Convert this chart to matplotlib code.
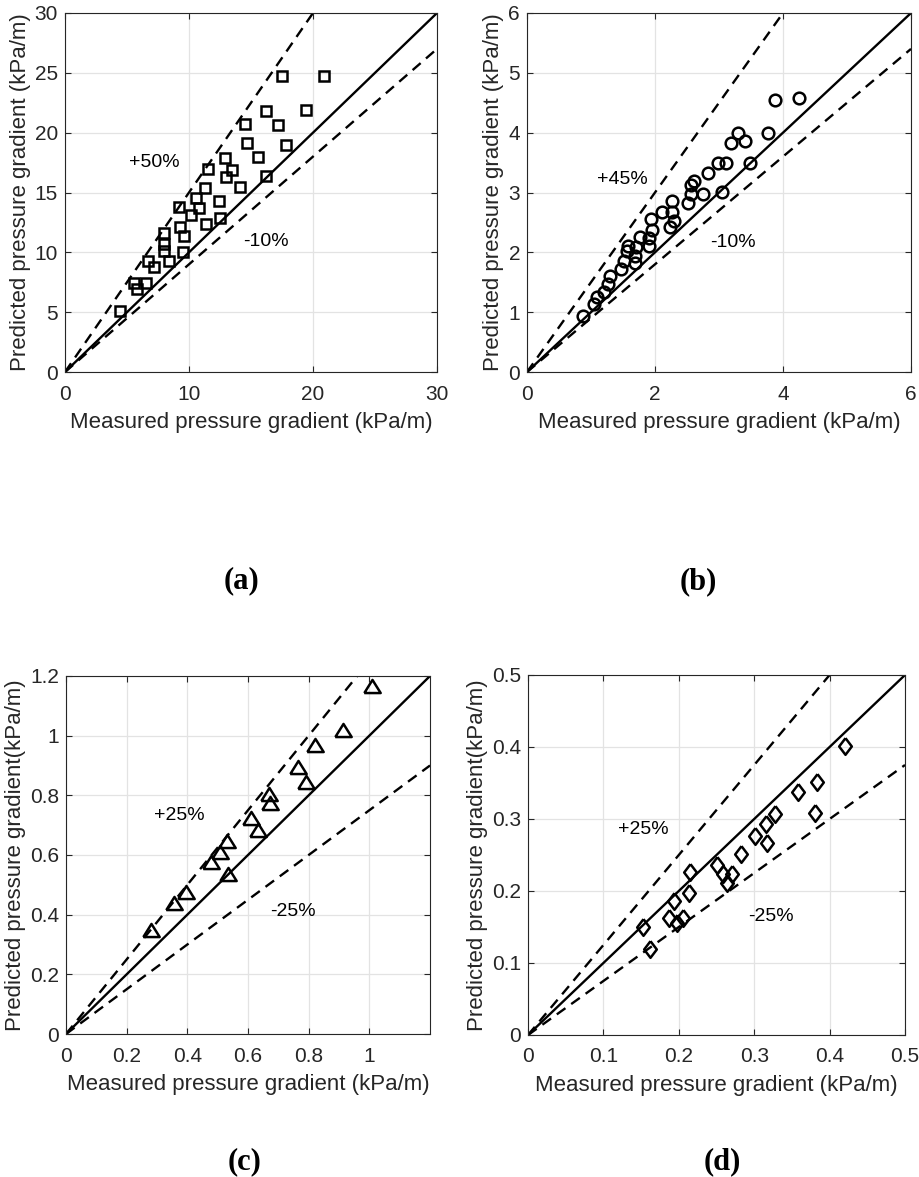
import numpy as np
from matplotlib import pyplot as plt
from matplotlib.ticker import FormatStrFormatter

# ---- data ----
# (a) squares
a_meas = [17.5, 20.9, 16.2, 19.4, 14.5, 17.2, 14.65, 17.8, 15.6, 12.9, 11.55, 13.5,
          12.95, 16.2, 11.3, 14.1, 10.55, 12.4, 10.8, 9.2, 10.2, 12.5, 11.4, 9.3,
          9.6, 8.0, 8.0, 8.0, 9.5, 6.7, 8.35, 7.2, 5.6, 6.5, 5.8, 4.4]
a_pred = [24.7, 24.7, 21.8, 21.9, 20.75, 20.6, 19.1, 19.0, 18.0, 17.9, 17.0, 16.9,
          16.3, 16.4, 15.4, 15.5, 14.5, 14.3, 13.7, 13.8, 13.1, 12.9, 12.4, 12.1,
          11.4, 11.6, 10.7, 10.1, 10.0, 9.3, 9.3, 8.8, 7.4, 7.4, 6.9, 5.1]
# (b) circles
b_meas = [3.88, 4.25, 3.30, 3.76, 3.18, 3.40, 2.98, 3.11, 3.48, 2.83, 2.61, 2.56, 2.56,
          2.75, 3.04, 2.26, 2.52, 2.26, 2.11, 2.30, 2.23, 1.94, 1.96, 1.91, 1.90, 1.77,
          1.70, 1.58, 1.56, 1.69, 1.68, 1.52, 1.47, 1.30, 1.27, 1.21, 1.09, 1.04, 0.87]
b_pred = [4.54, 4.58, 4.0, 4.0, 3.82, 3.86, 3.49, 3.5, 3.49, 3.32, 3.19, 3.13, 2.98,
          2.97, 3.01, 2.85, 2.82, 2.68, 2.68, 2.53, 2.42, 2.55, 2.38, 2.24, 2.11, 2.26,
          2.09, 2.11, 2.03, 1.94, 1.82, 1.85, 1.72, 1.61, 1.47, 1.33, 1.26, 1.14, 0.94]
# (c) triangles
c_meas = [1.008, 0.914, 0.822, 0.764, 0.792, 0.668, 0.673, 0.609, 0.633, 0.531,
          0.507, 0.479, 0.534, 0.394, 0.357, 0.28]
c_pred = [1.166, 1.02, 0.97, 0.894, 0.846, 0.803, 0.775, 0.723, 0.685, 0.648,
          0.61, 0.577, 0.535, 0.477, 0.438, 0.349]
# (d) diamonds
d_meas = [0.420, 0.383, 0.358, 0.381, 0.328, 0.315, 0.301, 0.317, 0.283, 0.251, 0.259,
          0.271, 0.264, 0.215, 0.214, 0.193, 0.187, 0.205, 0.198, 0.153, 0.162]
d_pred = [0.401, 0.352, 0.338, 0.309, 0.307, 0.293, 0.277, 0.266, 0.251, 0.236, 0.224,
          0.224, 0.211, 0.226, 0.197, 0.186, 0.162, 0.162, 0.155, 0.150, 0.119]

# error bands (slope of dashed lines) and their labels
upper = [1.5, 1.5, 1.25, 1.25]
lower = [0.9, 0.9, 0.75, 0.75]
up_txt = ['+50%', '+45%', '+25%', '+25%']
lo_txt = ['-10%', '-10%', '-25%', '-25%']
up_pos = [(5.2, 17.5), (1.10, 3.21), (0.29, 0.734), (0.119, 0.285)]
lo_pos = [(14.35, 10.9), (2.86, 2.17), (0.673, 0.409), (0.292, 0.164)]

lims = [30, 6, 1.2, 0.5]
xticks = [np.arange(0, 31, 10), np.arange(0, 7, 2), np.arange(0, 1.01, 0.2), np.arange(0, 0.51, 0.1)]
yticks = [np.arange(0, 31, 5), np.arange(0, 7, 1), np.arange(0, 1.21, 0.2), np.arange(0, 0.51, 0.1)]
ylabels = ['Predicted pressure gradient (kPa/m)', 'Predicted pressure gradient (kPa/m)',
           'Predicted pressure gradient(kPa/m)', 'Predicted pressure gradient(kPa/m)']
letters = ['(a)', '(b)', '(c)', '(d)']

# marker shapes (matlab style)
tri = [(-1, -0.8), (1, -0.8), (0, 0.8), (-1, -0.8)]
dia = [(0, 1), (0.76, 0), (0, -1), (-0.76, 0), (0, 1)]
markers = ['s', 'o', tri, dia]
msizes = [7.7, 8.4, 11.8, 12]
meas = [a_meas, b_meas, c_meas, d_meas]
pred = [a_pred, b_pred, c_pred, d_pred]

# axes rectangles in pixels: left, right, top, bottom
W, H = 920, 1177
boxes = [(65, 437, 13, 372), (527, 911, 13, 372), (66, 430, 676, 1034), (528, 905, 675, 1035)]
letter_xy = [(242, 581), (698, 582), (245, 1162), (722, 1162)]

plt.rcParams['font.family'] = ['Liberation Sans', 'DejaVu Sans']
fig = plt.figure(figsize=(W / 100, H / 100), dpi=100)
col = '#262626'

for i in range(4):
    l, r, t, b = boxes[i]
    ax = fig.add_axes([l / W, 1 - b / H, (r - l) / W, (b - t) / H])
    lim = lims[i]
    xs = np.array([0, lim])
    ax.plot(xs, xs, color='k', lw=1.7)
    ax.plot(xs, upper[i] * xs, color='k', lw=1.7, dashes=(4.5, 3))
    ax.plot(xs, lower[i] * xs, color='k', lw=1.7, dashes=(4.5, 3))
    ax.plot(meas[i], pred[i], linestyle='none', marker=markers[i], ms=msizes[i],
            mfc='none', mec='k', mew=1.8)
    ax.text(*up_pos[i], up_txt[i], fontsize=14, ha='left', va='center', color='k')
    ax.text(*lo_pos[i], lo_txt[i], fontsize=14, ha='left', va='center', color='k')
    ax.set_xlim(0, lim)
    ax.set_ylim(0, lim)
    ax.set_xticks(xticks[i])
    ax.set_yticks(yticks[i])
    ax.xaxis.set_major_formatter(FormatStrFormatter('%g'))
    ax.yaxis.set_major_formatter(FormatStrFormatter('%g'))
    ax.grid(True, color='#e3e3e3', lw=0.9)
    ax.set_axisbelow(True)
    ax.tick_params(direction='in', top=True, right=True, length=4, width=0.8,
                   labelsize=15, colors=col)
    ax.tick_params(axis='x', pad=9)
    ax.tick_params(axis='y', pad=5)
    for s in ax.spines.values():
        s.set_color(col)
        s.set_linewidth(0.8)
    ax.set_xlabel('Measured pressure gradient (kPa/m)', fontsize=16, color=col, labelpad=6)
    ax.set_ylabel(ylabels[i], fontsize=16, color=col, labelpad=3)
    # panel letter
    fig.text(letter_xy[i][0] / W, 1 - letter_xy[i][1] / H, letters[i], fontsize=22,
             fontweight='bold', family='Liberation Serif', ha='center', va='center')

plt.savefig('out.png', dpi=100)
